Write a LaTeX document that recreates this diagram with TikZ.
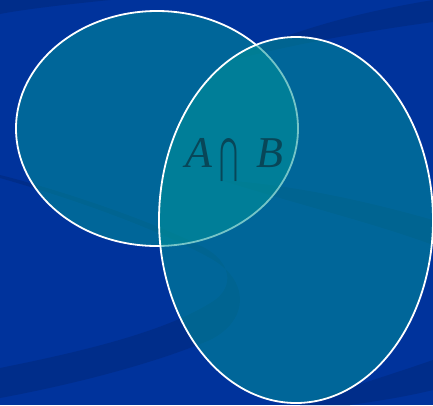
\documentclass[tikz,border=0pt]{standalone}
\usepackage{graphicx}
\usepackage{fontspec}
\setmainfont{Liberation Serif}
\newfontfamily\opfont{DejaVu Sans}
\usetikzlibrary{shapes.geometric}
\definecolor{slidebg}{RGB}{0,51,156}
\definecolor{slideband}{RGB}{0,45,138}
\definecolor{setfill}{RGB}{0,147,152}
\definecolor{labelink}{RGB}{8,70,88}
\newcommand{\tallcap}{\raisebox{-5pt}{\resizebox{19pt}{34pt}{\opfont ⋂}}}
\tikzset{
    setshape/.style={
        ellipse,
        draw=white,
        line width=1.8pt,
        fill=setfill,
        fill opacity=0.54,
        draw opacity=1
    },
    swoosh/.style={fill=slideband, draw=none},
    setlabel/.style={text=labelink, inner sep=0pt, font=\fontsize{44}{44}\selectfont}
}
\begin{document}
\begin{tikzpicture}[x=1pt, y=-1pt]
\fill[slidebg] (0,0) rectangle (433,405);
\useasboundingbox (0,0) rectangle (433,405);
% background swooshes
\fill[swoosh] (0,0) -- (110,0) .. controls (60,5) and (20,10) .. (0,14) -- cycle;
\fill[swoosh] (225,62) .. controls (290,30) and (360,12) .. (433,0) -- (433,22) .. controls (360,32) and (290,45) .. (225,62) -- cycle;
\fill[swoosh] (0,368) .. controls (90,350) and (170,330) .. (215,300) .. controls (235,285) and (230,262) .. (205,248) .. controls (150,220) and (60,190) .. (0,175) -- (0,178) .. controls (60,195) and (150,225) .. (210,258) .. controls (250,280) and (250,320) .. (210,340) .. controls (150,365) and (70,385) .. (0,398) -- cycle;
\fill[swoosh] (300,405) .. controls (340,390) and (390,375) .. (433,360) -- (433,390) .. controls (400,398) and (370,402) .. (350,405) -- cycle;
\fill[swoosh] (220,180) .. controls (300,185) and (380,205) .. (433,220) -- (433,245) .. controls (380,225) and (300,205) .. (220,180) -- cycle;
% sets
\node[setshape, minimum width=282pt, minimum height=235pt] (A) at (157,128.5) {};
\node[setshape, minimum width=274pt, minimum height=366pt] (B) at (296,220) {};
\node[setlabel, anchor=base west] (AcapB) at (185,167) {\textit{A}\hspace{7pt}\tallcap\hspace{18pt}\textit{B}};
\end{tikzpicture}
\end{document}
